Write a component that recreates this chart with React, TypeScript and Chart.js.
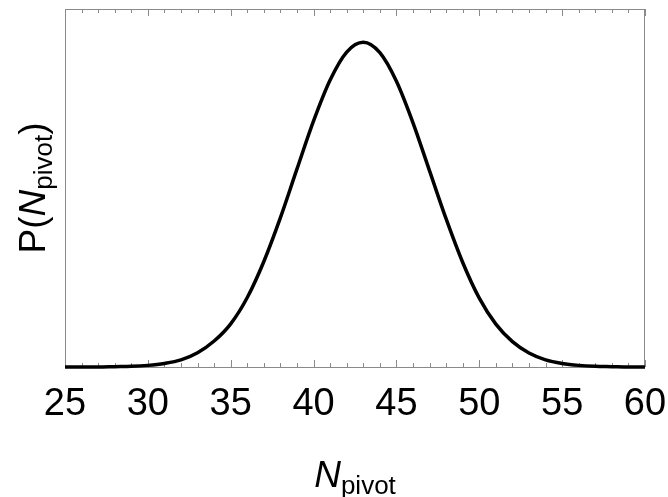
import React, { useEffect, useRef } from "react";
import { Chart, registerables } from "chart.js";

Chart.register(...registerables);

// N_pivot values (x) and relative probability
const N_VALUES = [25, 26, 27, 28, 29, 30, 31, 32, 33, 34, 35, 36, 37, 38, 39, 40, 41, 42, 43, 44, 45, 46, 47, 48, 49, 50, 51, 52, 53, 54, 55, 56, 57, 58, 59, 60];
const P_VALUES = [0.0, 0.0, 0.0, 0.001, 0.002, 0.005, 0.011, 0.022, 0.044, 0.08, 0.133, 0.214, 0.325, 0.46, 0.61, 0.758, 0.884, 0.97, 1.0, 0.968, 0.88, 0.752, 0.604, 0.456, 0.322, 0.212, 0.132, 0.078, 0.043, 0.022, 0.011, 0.005, 0.002, 0.001, 0.0, 0.0];

const X_MIN = 25;
const X_MAX = 60;
const X_MAJOR_STEP = 5;
const X_MINOR_STEP = 1;
const Y_MIN = 0;
const Y_MAX = 1.1026;

const X_TITLE = [
  { text: "N", italic: true, sub: false },
  { text: "pivot", italic: false, sub: true },
];
const Y_TITLE = [
  { text: "P(", italic: false, sub: false },
  { text: "N", italic: true, sub: false },
  { text: "pivot", italic: false, sub: true },
  { text: ")", italic: false, sub: false },
];

const FONT_FAMILY = "'Liberation Sans', Arial, Helvetica, sans-serif";
const MAIN_SIZE = 37;
const SUB_SIZE = 26;
const FRAME_COLOR = "#8a8a8a";

type Seg = { text: string; italic: boolean; sub: boolean };

function segFont(s: Seg) {
  return `${s.italic ? "italic " : ""}${s.sub ? SUB_SIZE : MAIN_SIZE}px ${FONT_FAMILY}`;
}

function drawRich(ctx: CanvasRenderingContext2D, segs: Seg[], cx: number, baseline: number) {
  let total = 0;
  const widths = segs.map((s) => {
    ctx.font = segFont(s);
    const w = ctx.measureText(s.text).width;
    total += w;
    return w;
  });
  let x = cx - total / 2;
  ctx.fillStyle = "#000";
  ctx.textBaseline = "alphabetic";
  ctx.textAlign = "left";
  segs.forEach((s, i) => {
    ctx.font = segFont(s);
    ctx.fillText(s.text, x, baseline + (s.sub ? 7 : 0));
    x += widths[i];
  });
}

const framePlugin = {
  id: "framePlugin",
  beforeDatasetsDraw(chart: any) {
    const { ctx, chartArea, scales } = chart;
    const { left, right, top, bottom } = chartArea;
    const x = scales.x;
    ctx.save();
    ctx.strokeStyle = FRAME_COLOR;
    ctx.lineWidth = 1;
    ctx.strokeRect(left + 0.5, top + 0.5, right - left - 1, bottom - top);
    ctx.beginPath();
    for (let v = X_MIN; v <= X_MAX; v += X_MINOR_STEP) {
      const px = Math.round(x.getPixelForValue(v)) + 0.5;
      const len = v % X_MAJOR_STEP === 0 ? 7 : 4;
      ctx.moveTo(px, bottom);
      ctx.lineTo(px, bottom - len);
      ctx.moveTo(px, top);
      ctx.lineTo(px, top + len);
    }
    ctx.stroke();
    ctx.restore();
  },
  afterDraw(chart: any) {
    const { ctx, chartArea } = chart;
    const { left, right, top, bottom } = chartArea;
    ctx.save();
    drawRich(ctx, X_TITLE, (left + right) / 2, 487);
    ctx.translate(45, (top + bottom) / 2);
    ctx.rotate(-Math.PI / 2);
    drawRich(ctx, Y_TITLE, 0, 0);
    ctx.restore();
  },
};

export default function App() {
  const ref = useRef<HTMLCanvasElement | null>(null);
  useEffect(() => {
    if (!ref.current) return;
    const chart = new Chart(ref.current, {
      type: "line",
      data: {
        datasets: [
          {
            data: N_VALUES.map((n, i) => ({ x: n, y: P_VALUES[i] })),
            borderColor: "#000",
            borderWidth: 3.5,
            pointRadius: 0,
            fill: false,
            cubicInterpolationMode: "monotone",
            clip: false as any,
          },
        ],
      },
      options: {
        responsive: false,
        animation: false,
        layout: { padding: { top: 9, right: 23, left: 0, bottom: 0 } },
        plugins: { legend: { display: false }, tooltip: { enabled: false } },
        scales: {
          x: {
            type: "linear",
            min: X_MIN,
            max: X_MAX,
            grid: { display: false, drawTicks: false },
            border: { display: false },
            ticks: {
              stepSize: X_MAJOR_STEP,
              color: "#000",
              font: { size: 38, family: FONT_FAMILY },
              padding: 15,
              maxRotation: 0,
              autoSkip: false,
            },
            afterFit: (s: any) => {
              s.height = 130;
              s.paddingLeft = 0;
              s.paddingRight = 0;
            },
          },
          y: {
            min: Y_MIN,
            max: Y_MAX,
            grid: { display: false, drawTicks: false },
            border: { display: false },
            ticks: { display: false },
            afterFit: (s: any) => {
              s.width = 65;
              s.paddingTop = 0;
              s.paddingBottom = 0;
            },
          },
        },
      },
      plugins: [framePlugin],
    });
    return () => chart.destroy();
  }, []);
  return (
    <div style={{ position: "absolute", left: 0, top: 0, width: 668, height: 497, background: "#fff" }}>
      <canvas ref={ref} width={668} height={497} style={{ display: "block" }} />
    </div>
  );
}
